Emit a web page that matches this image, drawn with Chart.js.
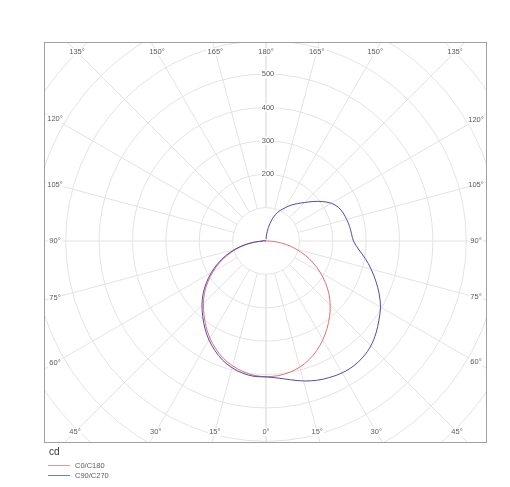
<!DOCTYPE html>
<html>
<head>
<meta charset="utf-8">
<script src="https://cdn.jsdelivr.net/npm/chart.js@4.4.1/dist/chart.umd.min.js"></script>
<style>
  html, body { margin: 0; padding: 0; background: #fff; }
  canvas { display: block; }
</style>
</head>
<body>
<canvas id="polarChart" width="510" height="487"></canvas>
<script>
// gamma angles (deg), 0 = straight down, 180 = straight up
const gammaAngles = [0, 5, 10, 15, 20, 25, 30, 35, 40, 45, 50, 55, 60, 65, 70, 75, 80, 85, 90,
  95, 100, 105, 110, 115, 120, 125, 130, 135, 140, 145, 150, 155, 160, 165, 170, 175, 180];

// luminous intensity (cd) per half-plane
const c0 = [407, 405, 400, 391, 378, 361, 341, 319, 296, 272, 246, 217, 187, 156, 125, 93, 62, 31, 6,
  0, 0, 0, 0, 0, 0, 0, 0, 0, 0, 0, 0, 0, 0, 0, 0, 0, 0];
const c180 = [407, 404, 397, 387, 374, 356, 336, 313, 289, 265, 240, 212, 183, 153, 122, 91, 60, 30, 6,
  0, 0, 0, 0, 0, 0, 0, 0, 0, 0, 0, 0, 0, 0, 0, 0, 0, 0];
const c90 = [407, 412, 422, 434, 444, 451, 456, 457, 453, 444, 430, 413, 396, 374, 350, 326, 302, 278, 262,
  257, 254, 250, 246, 239, 226, 206, 184, 163, 146, 131, 115, 101, 85, 65, 41, 18, 5];
const c270 = [407, 407, 402, 393, 380, 362, 342, 319, 295, 271, 246, 218, 189, 159, 128, 96, 64, 32, 9,
  10, 8, 5, 0, 0, 0, 0, 0, 0, 0, 0, 0, 0, 0, 0, 0, 0, 0];

const seriesNames = ['C0/C180', 'C90/C270'];
const seriesColors = ['#e27070', '#5048b4'];

const ringTicks = [100, 200, 300, 400, 500, 600, 700, 800, 900];
const ringLabels = [200, 300, 400, 500];
const angleTicks = [0, 15, 30, 45, 60, 75, 90, 105, 120, 135, 150, 165, 180];
const unitLabel = 'cd';

// left half-plane values go to negative x, right half-plane to positive x
function toPoints(left, right) {
  const pts = [];
  for (let i = gammaAngles.length - 1; i >= 0; i--) {
    const g = gammaAngles[i] * Math.PI / 180;
    pts.push({ x: -left[i] * Math.sin(g), y: -left[i] * Math.cos(g) });
  }
  for (let i = 0; i < gammaAngles.length; i++) {
    const g = gammaAngles[i] * Math.PI / 180;
    pts.push({ x: right[i] * Math.sin(g), y: -right[i] * Math.cos(g) });
  }
  return pts;
}

const labelFont = '7.5px "Liberation Sans", Arial, sans-serif';

const polarGrid = {
  id: 'polarGrid',
  beforeDatasetsDraw(chart) {
    const { ctx, chartArea: a, scales: { x, y } } = chart;
    const cx = x.getPixelForValue(0), cy = y.getPixelForValue(0);
    const k = (x.getPixelForValue(100) - cx) / 100;

    ctx.save();
    ctx.beginPath();
    ctx.rect(a.left, a.top, a.right - a.left, a.bottom - a.top);
    ctx.clip();
    ctx.strokeStyle = '#e3e3e3';
    ctx.lineWidth = 1;
    ringTicks.forEach(r => {
      ctx.beginPath();
      ctx.arc(cx, cy, r * k, 0, Math.PI * 2);
      ctx.stroke();
    });
    angleTicks.forEach(g => {
      [1, -1].forEach(side => {
        const rad = g * Math.PI / 180;
        const dx = side * Math.sin(rad), dy = Math.cos(rad);
        ctx.beginPath();
        ctx.moveTo(cx + dx * 100 * k, cy + dy * 100 * k);
        ctx.lineTo(cx + dx * 2000 * k, cy + dy * 2000 * k);
        ctx.stroke();
      });
    });
    ctx.restore();

    ctx.save();
    ctx.strokeStyle = '#a0a0a0';
    ctx.lineWidth = 1;
    ctx.strokeRect(a.left + 0.5, a.top + 0.5, a.right - a.left - 1, a.bottom - a.top - 1);

    ctx.font = labelFont;
    ctx.textAlign = 'center';
    ctx.textBaseline = 'middle';

    // angle labels where each spoke meets an inset box
    const inL = a.left + 11, inR = a.right - 11, inT = a.top + 10, inB = a.bottom - 11;
    angleTicks.forEach(g => {
      const sides = (g === 0 || g === 180) ? [1] : [1, -1];
      sides.forEach(side => {
        const rad = g * Math.PI / 180;
        const dx = side * Math.sin(rad), dy = Math.cos(rad);
        let t = Infinity;
        if (dx > 1e-6) t = Math.min(t, (inR - cx) / dx);
        if (dx < -1e-6) t = Math.min(t, (inL - cx) / dx);
        if (dy > 1e-6) t = Math.min(t, (inB - cy) / dy);
        if (dy < -1e-6) t = Math.min(t, (inT - cy) / dy);
        const lx = cx + dx * t, ly = cy + dy * t;
        const txt = g + '°';
        const w = ctx.measureText(txt).width;
        ctx.fillStyle = '#fff';
        ctx.fillRect(lx - w / 2 - 1, ly - 4, w + 2, 8);
        ctx.fillStyle = '#5a5a5a';
        ctx.fillText(txt, lx, ly);
      });
    });

    // ring value labels along the 180° spoke
    ringLabels.forEach(r => {
      const ly = cy - r * k;
      const txt = String(r);
      const w = ctx.measureText(txt).width;
      ctx.fillStyle = '#fff';
      ctx.fillRect(cx + 2 - w / 2 - 1, ly - 4, w + 2, 8);
      ctx.fillStyle = '#5a5a5a';
      ctx.fillText(txt, cx + 2, ly);
    });
    ctx.restore();
  },
  afterDraw(chart) {
    const { ctx, chartArea: a } = chart;
    ctx.save();
    ctx.textAlign = 'left';
    ctx.textBaseline = 'middle';
    ctx.fillStyle = '#333';
    ctx.font = '10px "Liberation Sans", Arial, sans-serif';
    ctx.fillText(unitLabel, a.left + 5, a.bottom + 9);

    ctx.font = labelFont;
    chart.data.datasets.forEach((ds, i) => {
      const ly = a.bottom + 22.5 + i * 10;
      ctx.strokeStyle = ds.borderColor;
      ctx.globalAlpha = 0.75;
      ctx.lineWidth = 1;
      ctx.beginPath();
      ctx.moveTo(a.left + 4, ly);
      ctx.lineTo(a.left + 26, ly);
      ctx.stroke();
      ctx.globalAlpha = 1;
      ctx.fillStyle = '#5a5a5a';
      ctx.fillText(ds.label, a.left + 31, ly);
    });
    ctx.restore();
  }
};

const ctx = document.getElementById('polarChart').getContext('2d');
new Chart(ctx, {
  type: 'scatter',
  data: {
    datasets: [{
      label: seriesNames[0],
      data: toPoints(c180, c0),
      borderColor: seriesColors[0],
      order: 2
    }, {
      label: seriesNames[1],
      data: toPoints(c270, c90),
      borderColor: seriesColors[1],
      order: 1
    }]
  },
  options: {
    responsive: false,
    animation: false,
    showLine: true,
    elements: {
      point: { radius: 0, hoverRadius: 0 },
      line: { borderWidth: 1, tension: 0.35, fill: false }
    },
    layout: { padding: { left: 44, right: 23, top: 42, bottom: 44 } },
    scales: {
      x: { type: 'linear', min: -665, max: 662, display: false },
      y: { type: 'linear', min: -605, max: 596, display: false }
    },
    plugins: {
      legend: { display: false },
      tooltip: { enabled: false }
    }
  },
  plugins: [polarGrid]
});
</script>
</body>
</html>
